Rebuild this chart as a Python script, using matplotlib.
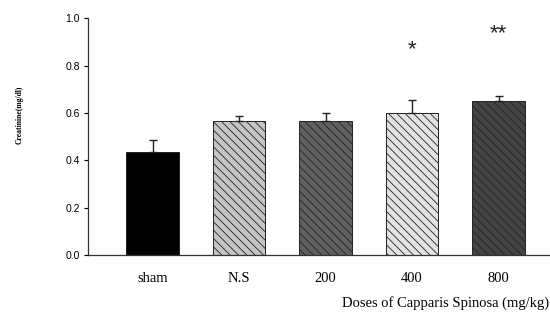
import numpy as np
import matplotlib
matplotlib.use('Agg')
import matplotlib.pyplot as plt

# Data
groups = ['sham', 'N.S', '200', '400', '800']
means = [0.433, 0.567, 0.567, 0.599, 0.651]
sem = [0.051, 0.021, 0.032, 0.056, 0.021]
stars = ['', '', '', '*', '**']
star_y = [0, 0, 0, 0.865, 0.935]

colors = ['#000000', '#c4c4c4', '#606060', '#e2e2e2', '#444444']
hatches = ['', '\\\\\\\\', '\\\\\\\\', '\\\\\\\\', '\\\\\\\\']

plt.rcParams['hatch.linewidth'] = 0.6

fig = plt.figure(figsize=(5.5, 3.18), dpi=100)
ax = fig.add_axes([0.16, 0.198, 0.84, 0.745])

xpos = np.arange(1, len(groups) + 1)
for x, m, e, c, h in zip(xpos, means, sem, colors, hatches):
    ax.bar(x, m, width=0.61, color=c, edgecolor='#222222', linewidth=0.7,
           hatch=h, zorder=2)
    ax.errorbar(x, m, yerr=[[0], [e]], fmt='none', ecolor='#222222',
                elinewidth=1.0, capsize=3, capthick=1.0, zorder=3)

for x, s, y in zip(xpos, stars, star_y):
    if s:
        ax.text(x, y, s, ha='center', va='center', fontsize=16,
                family='Liberation Sans', color='#222222')

ax.set_xlim(0.254, 5.595)
ax.set_ylim(0, 1.0)
ax.set_yticks([0.0, 0.2, 0.4, 0.6, 0.8, 1.0])
ax.set_yticklabels(['0.0', '0.2', '0.4', '0.6', '0.8', '1.0'],
                   family='Liberation Sans', fontsize=7.5)
ax.set_xticks(xpos)
ax.set_xticklabels(groups, family='Liberation Serif', fontsize=10.5)
ax.tick_params(axis='x', length=0, pad=12)
ax.tick_params(axis='y', length=3, width=0.8, pad=3)

ax.spines['top'].set_visible(False)
ax.spines['right'].set_visible(False)
for sp in ['left', 'bottom']:
    ax.spines[sp].set_color('#333333')
    ax.spines[sp].set_linewidth(0.9)

fig.text(0.036, 0.638, 'Creatinine(mg/dl)', rotation=90, ha='center', va='center',
         fontsize=5.5, fontweight='bold', family='Liberation Serif')
fig.text(0.998, 0.048, 'Doses of Capparis Spinosa (mg/kg)', ha='right', va='center',
         fontsize=10.5, family='Liberation Serif')

fig.savefig('out.png', dpi=100)
